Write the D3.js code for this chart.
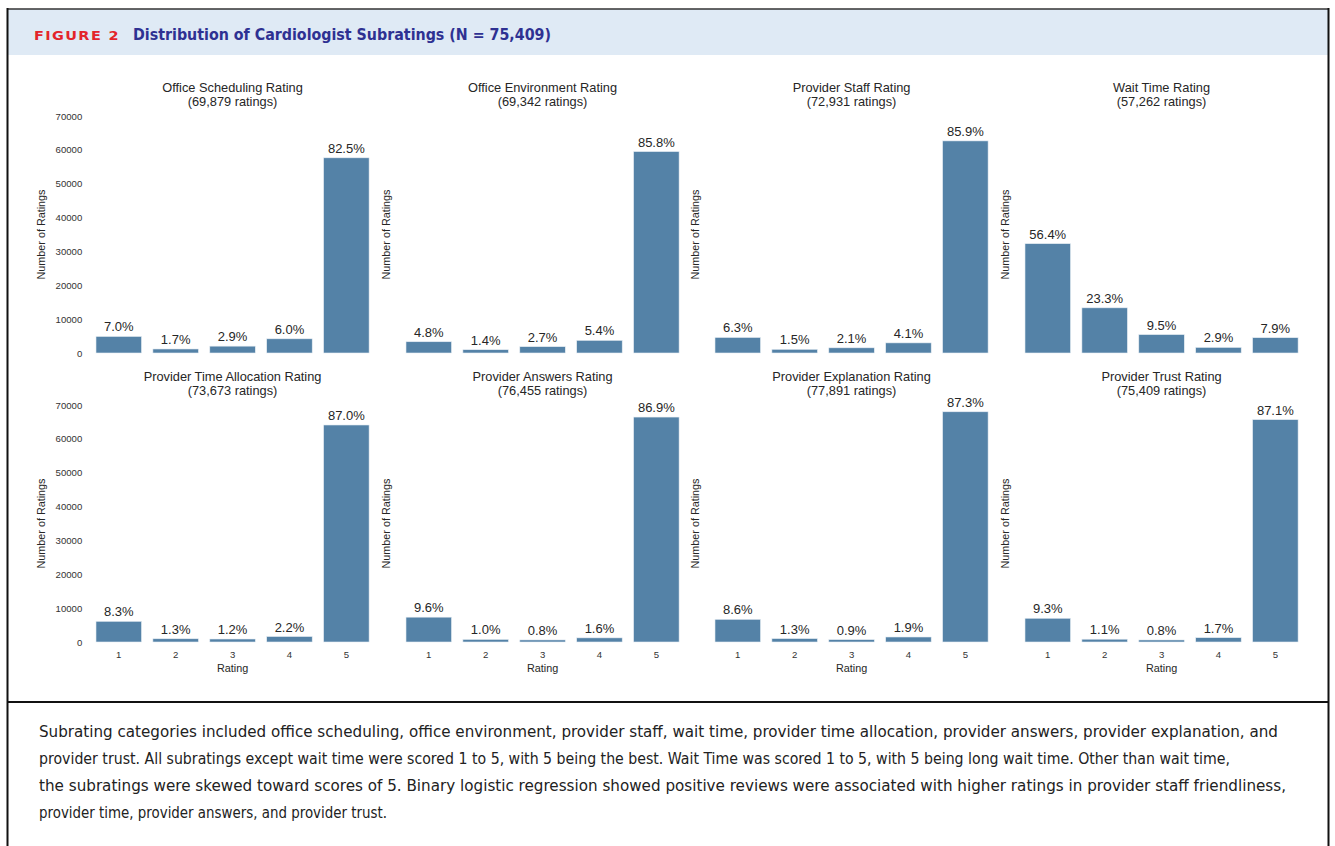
<!DOCTYPE html>
<html>
<head>
<meta charset="utf-8">
<script src="https://cdn.jsdelivr.net/npm/d3@7"></script>
<style>
  html, body { margin: 0; padding: 0; background: #fff; }
  svg { display: block; }
</style>
</head>
<body>
<svg id="fig" width="1335" height="846"></svg>
<script>
// Subrating panels, in reading order (4 per row)
const panelTitles = [
  "Office Scheduling Rating", "Office Environment Rating", "Provider Staff Rating", "Wait Time Rating",
  "Provider Time Allocation Rating", "Provider Answers Rating", "Provider Explanation Rating", "Provider Trust Rating"
];
const panelTotals = [69879, 69342, 72931, 57262, 73673, 76455, 77891, 75409];
const ratings = ["1", "2", "3", "4", "5"];
// share of each rating (percent) per panel
const officeScheduling   = [7.0, 1.7, 2.9, 6.0, 82.5];
const officeEnvironment  = [4.8, 1.4, 2.7, 5.4, 85.8];
const providerStaff      = [6.3, 1.5, 2.1, 4.1, 85.9];
const waitTime           = [56.4, 23.3, 9.5, 2.9, 7.9];
const providerTime       = [8.3, 1.3, 1.2, 2.2, 87.0];
const providerAnswers    = [9.6, 1.0, 0.8, 1.6, 86.9];
const providerExplain    = [8.6, 1.3, 0.9, 1.9, 87.3];
const providerTrust      = [9.3, 1.1, 0.8, 1.7, 87.1];
const yTicks = [0, 10000, 20000, 30000, 40000, 50000, 60000, 70000];

const captionLines = [
  "Subrating categories included office scheduling, office environment, provider staff, wait time, provider time allocation, provider answers, provider explanation, and",
  "provider trust. All subratings except wait time were scored 1 to 5, with 5 being the best. Wait Time was scored 1 to 5, with 5 being long wait time. Other than wait time,",
  "the subratings were skewed toward scores of 5. Binary logistic regression showed positive reviews were associated with higher ratings in provider staff friendliness,",
  "provider time, provider answers, and provider trust."
];
const captionWidths = [1239, 1191, 1247, 348];

const panelShares = [officeScheduling, officeEnvironment, providerStaff, waitTime,
                     providerTime, providerAnswers, providerExplain, providerTrust];

const svg = d3.select("#fig");
const barColor = "#5482a7";
const chartFont = "'Liberation Sans', Arial, Helvetica, sans-serif";

// ---- frame and header band ----
svg.append("rect").attr("x", 7).attr("y", 9).attr("width", 1321).attr("height", 46)
  .attr("fill", "#dfeaf5");
svg.append("line").attr("x1", 7).attr("x2", 1329).attr("y1", 9).attr("y2", 9)
  .attr("stroke", "#333").attr("stroke-width", 1.5);
svg.append("line").attr("x1", 7.5).attr("x2", 7.5).attr("y1", 8).attr("y2", 846)
  .attr("stroke", "#111").attr("stroke-width", 2);
svg.append("line").attr("x1", 1328.5).attr("x2", 1328.5).attr("y1", 8).attr("y2", 846)
  .attr("stroke", "#111").attr("stroke-width", 2);
svg.append("line").attr("x1", 7).attr("x2", 1329).attr("y1", 702).attr("y2", 702)
  .attr("stroke", "#111").attr("stroke-width", 2);

svg.append("text").attr("x", 34).attr("y", 39.5)
  .attr("font-family", "'DejaVu Sans', sans-serif").attr("font-weight", "bold")
  .attr("font-size", 12.5).attr("letter-spacing", 1.2).attr("fill", "#e3242b")
  .attr("textLength", 86).attr("lengthAdjust", "spacingAndGlyphs")
  .text("FIGURE 2");
svg.append("text").attr("x", 133).attr("y", 39.5)
  .attr("font-family", "'DejaVu Sans Condensed', 'DejaVu Sans', sans-serif").attr("font-weight", "bold")
  .attr("font-size", 15).attr("fill", "#2e3192")
  .attr("textLength", 418).attr("lengthAdjust", "spacingAndGlyphs")
  .text("Distribution of Cardiologist Subratings (N = 75,409)");

// ---- small multiples ----
const colLeft = [90.3, 400.3, 709.3, 1019.3];
const bandWidth = 284.5;
const rowBase = [353, 642];
const plotH = 237;

panelTitles.forEach((title, i) => {
  const col = i % 4, row = Math.floor(i / 4);
  const total = panelTotals[i];
  const shares = panelShares[i];
  const rows = ratings.map((r, k) => ({ rating: r, pct: shares[k], count: shares[k] / 100 * total }));

  const x = d3.scaleBand().domain(ratings).range([colLeft[col], colLeft[col] + bandWidth])
    .paddingInner(0.2).paddingOuter(0.1);
  const y = d3.scaleLinear().domain([0, 70000]).range([rowBase[row], rowBase[row] - plotH]);
  const g = svg.append("g").attr("font-family", chartFont);

  // title
  const cx = colLeft[col] + bandWidth / 2;
  const titleTop = rowBase[row] - plotH - 24;
  g.append("text").attr("x", cx).attr("y", titleTop).attr("text-anchor", "middle")
    .attr("font-size", 12.8).attr("fill", "#262626").text(title);
  g.append("text").attr("x", cx).attr("y", titleTop + 14).attr("text-anchor", "middle")
    .attr("font-size", 12.8).attr("fill", "#262626")
    .text(`(${d3.format(",")(total)} ratings)`);

  // y axis (tick labels only in first column)
  if (col === 0) {
    const ya = g.append("g").attr("transform", `translate(${colLeft[col] - 6},0)`)
      .call(d3.axisLeft(y).tickValues(yTicks).tickFormat(d3.format("d")).tickSize(0).tickPadding(2));
    ya.select(".domain").remove();
    ya.selectAll("text").attr("font-size", 9.6).attr("fill", "#333").attr("font-family", chartFont);
  }
  const ylabX = col === 0 ? colLeft[col] - 45 : colLeft[col] - 10;
  g.append("text")
    .attr("transform", `translate(${ylabX},${rowBase[row] - plotH / 2}) rotate(-90)`)
    .attr("text-anchor", "middle").attr("font-size", 10.8).attr("fill", "#262626")
    .text("Number of Ratings");

  // bars
  g.selectAll("rect.bar").data(rows).join("rect").attr("class", "bar")
    .attr("x", d => x(d.rating)).attr("width", x.bandwidth())
    .attr("y", d => y(d.count)).attr("height", d => y(0) - y(d.count))
    .attr("fill", barColor).attr("stroke", "#e8eef4").attr("stroke-width", 0.6);

  // percent labels
  g.selectAll("text.pct").data(rows).join("text").attr("class", "pct")
    .attr("x", d => x(d.rating) + x.bandwidth() / 2).attr("y", d => y(d.count) - 5)
    .attr("text-anchor", "middle").attr("font-size", 13).attr("fill", "#262626")
    .text(d => d.pct.toFixed(1) + "%");

  // x axis (bottom row only)
  if (row === 1) {
    const xa = g.append("g").attr("transform", `translate(0,${rowBase[row]})`)
      .call(d3.axisBottom(x).tickSize(0).tickPadding(9));
    xa.select(".domain").remove();
    xa.selectAll("text").attr("font-size", 9.6).attr("fill", "#333").attr("font-family", chartFont);
    g.append("text").attr("x", cx).attr("y", rowBase[row] + 30).attr("text-anchor", "middle")
      .attr("font-size", 10.8).attr("fill", "#262626").text("Rating");
  }
});

// ---- caption ----
svg.append("g").selectAll("text").data(captionLines).join("text")
  .attr("x", 39).attr("y", (d, i) => 737 + i * 27)
  .attr("font-family", "'Liberation Sans Narrow', 'DejaVu Sans Condensed', sans-serif")
  .attr("font-size", 15).attr("fill", "#222")
  .attr("textLength", (d, i) => captionWidths[i]).attr("lengthAdjust", "spacingAndGlyphs")
  .text(d => d);
</script>
</body>
</html>
